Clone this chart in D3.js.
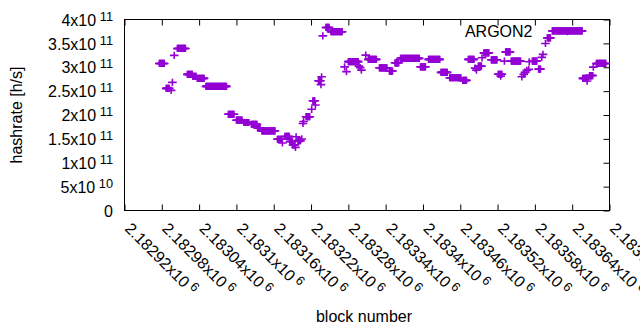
<!DOCTYPE html>
<html><head><meta charset="utf-8">
<script src="https://cdn.jsdelivr.net/npm/d3@7"></script>
<style>body{margin:0;background:#fff} svg{display:block} text{font-family:"Liberation Sans",Arial,sans-serif;}</style>
</head><body><svg id="c" width="640" height="330"></svg>
<script>
// ---- data ----
const seriesName = "ARGON2";
const xTicks = [2182920,2182980,2183040,2183100,2183160,2183220,2183280,2183340,2183400,2183460,2183520,2183580,2183640,2183700];
const xTickLabels = ["2.18292x10^{6}","2.18298x10^{6}","2.18304x10^{6}","2.1831x10^{6}","2.18316x10^{6}","2.18322x10^{6}","2.18328x10^{6}","2.18334x10^{6}","2.1834x10^{6}","2.18346x10^{6}","2.18352x10^{6}","2.18358x10^{6}","2.18364x10^{6}","2.1837x10^{6}"];
const yTicks = [0,0.5e11,1e11,1.5e11,2e11,2.5e11,3e11,3.5e11,4e11];
const yTickLabels = ["0","5x10^{10}","1x10^{11}","1.5x10^{11}","2x10^{11}","2.5x10^{11}","3x10^{11}","3.5x10^{11}","4x10^{11}"];
// runs of consecutive blocks sharing the same hashrate
const runStart = [2182976,2182987,2182995,2182997,2183000,2183005,2183021,2183030,2183037,2183051,2183087,2183100,2183112,2183124,2183134,2183141,2183166,2183174,2183178,2183186,2183191,2183195,2183196,2183199,2183205,2183207,2183208,2183212,2183221,2183223,2183227,2183232,2183236,2183237,2183239,2183244,2183252,2183274,2183277,2183280,2183297,2183299,2183301,2183308,2183312,2183330,2183346,2183355,2183364,2183396,2183409,2183429,2183443,2183464,2183473,2183484,2183486,2183489,2183495,2183498,2183510,2183521,2183525,2183531,2183533,2183542,2183559,2183562,2183564,2183567,2183570,2183571,2183576,2183586,2183591,2183593,2183597,2183600,2183608,2183657,2183664,2183668,2183674,2183679];
const runEnd   = [2182984,2182992,2182995,2182997,2183000,2183018,2183029,2183035,2183048,2183084,2183096,2183109,2183120,2183133,2183138,2183162,2183172,2183174,2183185,2183190,2183194,2183195,2183196,2183203,2183205,2183207,2183208,2183218,2183221,2183226,2183227,2183235,2183236,2183237,2183239,2183249,2183270,2183274,2183277,2183296,2183297,2183299,2183301,2183308,2183325,2183342,2183351,2183361,2183394,2183404,2183427,2183439,2183461,2183470,2183482,2183484,2183486,2183494,2183495,2183506,2183519,2183527,2183525,2183531,2183540,2183557,2183559,2183562,2183564,2183567,2183570,2183571,2183583,2183589,2183591,2183593,2183597,2183605,2183656,2183665,2183664,2183673,2183674,2183694];
const runRate  = [3.080e11,2.558e11,2.516e11,2.683e11,3.248e11,3.394e11,2.851e11,2.809e11,2.767e11,2.600e11,2.015e11,1.891e11,1.843e11,1.806e11,1.728e11,1.666e11,1.492e11,1.415e11,1.551e11,1.446e11,1.373e11,1.321e11,1.544e11,1.463e11,1.498e11,1.822e11,1.864e11,1.964e11,2.119e11,2.297e11,2.209e11,2.717e11,2.637e11,2.800e11,3.657e11,3.833e11,3.745e11,3.007e11,2.909e11,3.118e11,3.024e11,2.993e11,2.940e11,3.254e11,3.164e11,2.989e11,2.920e11,3.093e11,3.185e11,3.009e11,3.164e11,2.892e11,2.780e11,2.725e11,3.164e11,2.982e11,2.940e11,3.024e11,3.198e11,3.302e11,3.156e11,2.853e11,2.815e11,3.129e11,3.323e11,3.129e11,2.800e11,2.851e11,2.892e11,2.934e11,2.955e11,3.114e11,3.129e11,2.961e11,3.206e11,3.269e11,3.498e11,3.616e11,3.762e11,2.767e11,2.711e11,2.826e11,3.003e11,3.080e11];

// ---- layout ----
const L = 124.5, R = 609.5, T = 19.5, B = 210.5;
const color = "#9400d3";
const svg = d3.select("#c");
const x = d3.scaleLinear().domain([xTicks[0], xTicks[xTicks.length-1]]).range([L, R]);
const y = d3.scaleLinear().domain([0, 4e11]).range([B, T]);

function renderSup(sel, label) {
  const m = label.match(/^(.*)\^\{(.*)\}$/);
  sel.text(null);
  if (!m) { sel.text(label); return; }
  sel.append("tspan").text(m[1]);
  sel.append("tspan").attr("font-size", 12.8).attr("dy", -5).text(" " + m[2]);
}

// axes
const gx = svg.append("g").attr("transform", `translate(0,${B})`)
  .call(d3.axisBottom(x).tickValues(xTicks).tickSizeInner(-6).tickSizeOuter(0).tickFormat((d,i)=>xTickLabels[i]));
gx.attr("font-size", null).attr("font-family", null).style("color", "#000");
gx.select(".domain").remove();
gx.selectAll(".tick text").attr("y", null).attr("dy", null).attr("x", null)
  .attr("transform", "translate(-1,19) rotate(45)").attr("text-anchor", "start")
  .attr("font-size", 16).attr("fill", "#000")
  .each(function(d,i){ renderSup(d3.select(this), xTickLabels[i]); });

const gy = svg.append("g").attr("transform", `translate(${L},0)`)
  .call(d3.axisLeft(y).tickValues(yTicks).tickSize(0).tickPadding(11.5).tickFormat((d,i)=>yTickLabels[i]));
gy.attr("font-size", null).attr("font-family", null).style("color", "#000");
gy.select(".domain").remove();
gy.selectAll(".tick line").remove();
gy.selectAll(".tick text").attr("dy", null).attr("y", 5.7).attr("font-size", 16).attr("fill", "#000")
  .each(function(d,i){ renderSup(d3.select(this), yTickLabels[i]); });

const gr = svg.append("g").attr("transform", `translate(${R},0)`)
  .call(d3.axisRight(y).tickValues(yTicks).tickSizeInner(-6).tickSizeOuter(0).tickFormat(""));
gr.select(".domain").remove(); gr.style("color", "#000");
const gt = svg.append("g").attr("transform", `translate(0,${T})`)
  .call(d3.axisTop(x).tickValues(xTicks).tickSizeInner(-6).tickSizeOuter(0).tickFormat(""));
gt.select(".domain").remove(); gt.style("color", "#000");

// frame
svg.append("rect").attr("x", L).attr("y", T).attr("width", R-L).attr("height", B-T)
  .attr("fill", "none").attr("stroke", "#000").attr("stroke-width", 1);

// points
const points = [];
runStart.forEach((s, i) => { d3.range(s, runEnd[i] + 1).forEach(b => points.push({b, v: runRate[i]})); });
const plus = (cx, cy) => `M${cx-4.3},${cy}h8.6M${cx},${cy-3.6}v7.2`;
svg.append("g").selectAll("path").data(points).join("path")
  .attr("d", d => plus(x(d.b), y(d.v)))
  .attr("fill", "none").attr("stroke", color).attr("stroke-width", 1.6);

// legend
svg.append("text").attr("x", 532.5).attr("y", 37.3).attr("text-anchor", "end")
  .attr("font-size", 16).attr("fill", "#000").text(seriesName);
svg.append("path").attr("d", plus(567.5, 31.7)).attr("fill", "none").attr("stroke", color).attr("stroke-width", 1.6);

// axis titles
svg.append("text").attr("transform", "translate(21.7,115) rotate(-90)").attr("text-anchor", "middle")
  .attr("font-size", 16).attr("fill", "#000").text("hashrate [h/s]");
svg.append("text").attr("x", 364).attr("y", 321.5).attr("text-anchor", "middle")
  .attr("font-size", 16).attr("fill", "#000").text("block number");
</script></body></html>
